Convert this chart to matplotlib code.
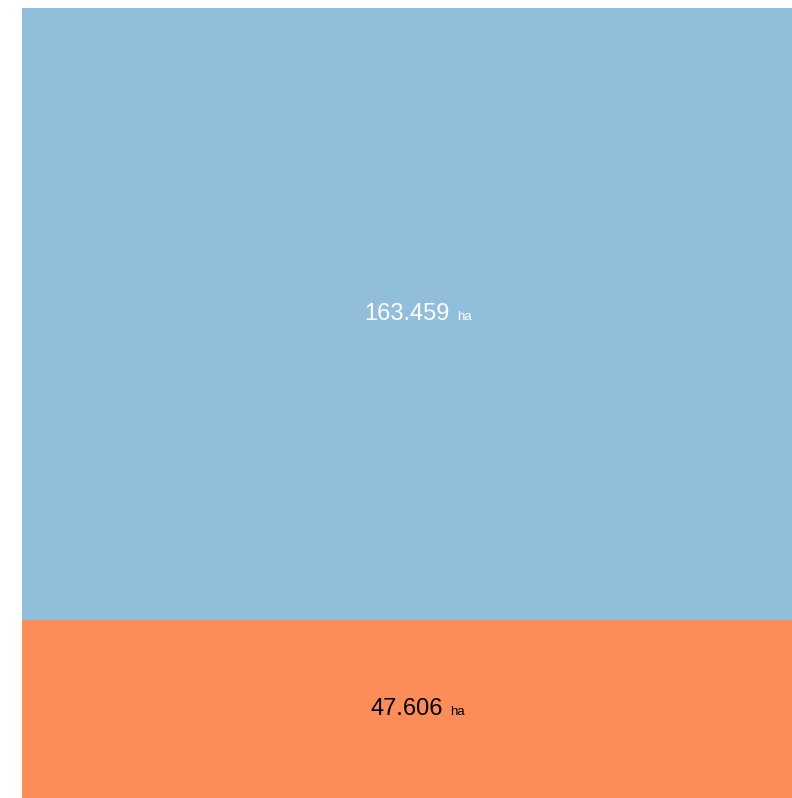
import matplotlib.pyplot as plt
from matplotlib.patches import Rectangle

plt.rcParams['font.family'] = ['Liberation Sans', 'DejaVu Sans']

labels = ['163.459', '47.606']
values = [163.459, 47.606]
unit = 'ha'
colors = ['#91bfdb', '#fc8d59']
text_colors = ['white', 'black']

fig = plt.figure(figsize=(7.92, 7.98), dpi=100)
ax = fig.add_axes([22 / 792, 0, 770 / 792, 790 / 798])
ax.set_xlim(0, 1)
ax.set_ylim(0, sum(values))
ax.axis('off')

# stack the rectangles top to bottom, height proportional to value
top = sum(values)
for lab, val, col, tcol in zip(labels, values, colors, text_colors):
    ax.add_patch(Rectangle((0, top - val), 1, val, facecolor=col, edgecolor='none'))
    num = ax.text(0.5, top - val / 2, lab, ha='center', va='center',
                  fontsize=17, color=tcol)
    # small unit label sitting on the number's baseline
    ax.annotate(unit, xy=(1, 0), xycoords=num, xytext=(5, 3.8),
                textcoords='offset points', ha='left', va='baseline',
                fontsize=9.5, color=tcol)
    top -= val

fig.savefig('out.png', dpi=100)
